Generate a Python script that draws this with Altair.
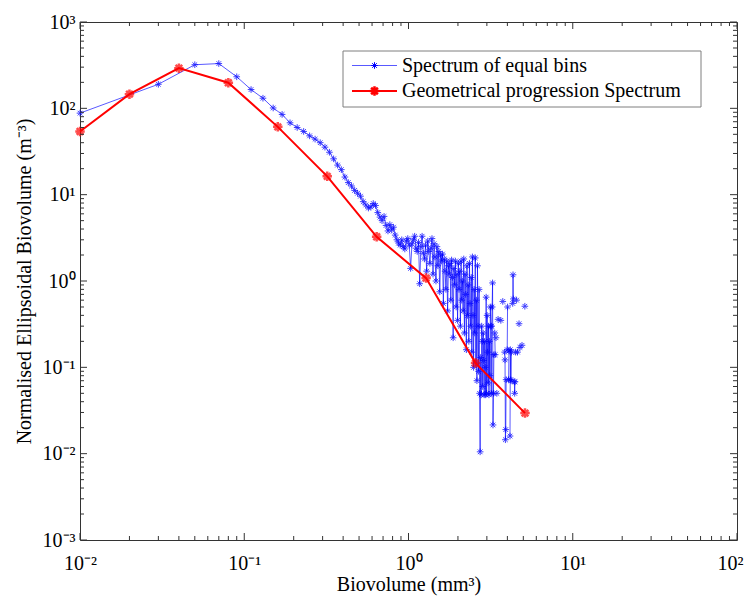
import altair as alt
import pandas as pd

# ---------------- data ----------------
BLUE_X = [
    0.01, 0.03, 0.05, 0.07, 0.09, 0.11, 0.13, 0.15, 0.17, 0.19,
    0.21, 0.23, 0.25, 0.27, 0.29, 0.31, 0.33, 0.35, 0.37, 0.39,
    0.41, 0.43, 0.45, 0.47, 0.49, 0.51, 0.53, 0.55, 0.57, 0.59,
    0.61, 0.63, 0.65, 0.67, 0.69, 0.71, 0.73, 0.75, 0.77, 0.79,
    0.81, 0.83, 0.85, 0.87, 0.89, 0.91, 0.93, 0.95, 0.97, 0.99,
    1.01, 1.03, 1.05, 1.07, 1.09, 1.11, 1.13, 1.15, 1.17, 1.19,
    1.21, 1.23, 1.25, 1.27, 1.29, 1.31, 1.33, 1.35, 1.37, 1.39,
    1.41, 1.43, 1.45, 1.47, 1.49, 1.51, 1.53, 1.55, 1.57, 1.59,
    1.61, 1.63, 1.65, 1.67, 1.69, 1.71, 1.73, 1.75, 1.77, 1.79,
    1.81, 1.83, 1.85, 1.87, 1.89, 1.91, 1.93, 1.95, 1.97, 1.99,
    2.01, 2.03, 2.05, 2.07, 2.09, 2.11, 2.13, 2.15, 2.17, 2.19,
    2.21, 2.23, 2.25, 2.27, 2.29, 2.31, 2.33, 2.35, 2.37, 2.39,
    2.41, 2.43, 2.45, 2.47, 2.49, 2.51, 2.53, 2.55, 2.57, 2.59,
    2.61, 2.63, 2.65, 2.67, 2.69, 2.71, 2.73, 2.75, 2.77, 2.79,
    2.81, 2.83, 2.85, 2.87, 2.89, 2.91, 2.93, 2.95, 2.97, 2.99,
    3.01, 3.03, 3.05, 3.07, 3.09, 3.11, 3.13, 3.15, 3.17, 3.19,
    3.21, 3.23, 3.25, 3.27, 3.29, 3.31, 3.33, 3.35, 3.37, 3.39,
    3.41, 3.43, 3.45, 3.47, 3.49, 3.51, 3.53, 3.55, 3.57, 3.59,
    3.61, 3.63, 3.65, 3.67, 3.69, 3.71, 3.73, 3.75, 3.77, 3.79,
    3.81, 3.83, 3.85, 3.87, 3.89, 3.91, 3.93, 3.95, 3.97, 3.99,
    4.01, 4.03, 4.05, 4.07, 4.09, 4.11, 4.13, 4.15, 4.17, 4.19,
    4.21, 4.23, 4.25, 4.27, 4.29, 4.31, 4.33, 4.35, 4.37, 4.39,
    4.41, 4.43, 4.45, 4.47, 4.49, 4.51, 4.53, 4.55, 4.57, 4.59,
    4.61, 4.63, 4.65, 4.67, 4.69, 4.71, 4.73, 4.75, 4.77, 4.79,
    4.81, 4.83, 4.85, 4.87, 4.89, 4.91, 4.93, 4.95, 4.97, 4.99,
    5.01, 5.03, 5.05, 5.07, 5.09, 5.11,
]
BLUE_Y = [
    88, 190, 320, 330, 232, 165, 131, 101, 85, 68,
    60, 54, 48, 44, 40, 35.5, 31, 26, 22, 19.5,
    16, 13.8, 12.6, 11.2, 10.4, 9.6, 8.3, 7.6, 7.0, 7.2,
    7.9, 7.5, 6.2, 5.5, 5.0, 5.6, 4.4, 3.8, 4.5, 3.9,
    4.2, 3.4, 3.0, 2.75, 2.6, 3.0, 2.5, 2.35, 2.9, 3.1,
    2.6, 1.4, 2.7, 3.0, 3.3, 2.4, 2.2, 2.8, 0.93, 2.5,
    3.3, 2.1, 1.8, 2.6, 1.3, 2.9, 2.2, 1.6, 2.4, 3.1,
    1.2, 2.7, 1.9, 1.0, 2.5, 1.5, 2.2, 0.75, 2.0, 1.7,
    2.05, 0.55, 1.8, 1.3, 0.8, 1.7, 0.45, 1.5, 1.2, 1.6,
    0.6, 1.75, 1.1, 0.22, 1.4, 0.9, 1.7, 0.5, 1.2, 0.35,
    1.6, 0.8, 1.3, 0.3, 1.7, 0.6, 1.0, 0.45, 1.8, 0.25,
    1.2, 0.7, 0.16, 1.5, 0.4, 0.9, 0.2, 1.6, 0.55, 0.3,
    1.1, 0.15, 1.9, 0.4, 0.1, 0.8, 0.25, 1.85, 0.11, 0.6,
    0.07, 1.5, 0.3, 0.09, 0.8, 0.05, 0.0105, 0.13, 0.048, 0.3,
    0.2, 0.06, 0.25, 0.12, 0.048, 0.2, 0.1, 0.048, 0.65, 0.05,
    0.4, 0.15, 0.066, 0.3, 0.048, 0.2, 0.08, 0.5, 0.3, 0.05,
    0.3, 0.5, 0.95, 0.0215, 0.05, 0.14, None, 0.25, 0.14, None,
    0.22, None, 0.05, None, None, 0.36, None, None, None, None,
    None, None, 0.35, None, None, None, None, 0.58, None, None,
    None, None, 0.15, 0.122, 0.0145, 0.019, 0.072, None, None, 0.16,
    0.5, None, None, 0.072, 0.155, None, None, 0.016, 0.16, 0.072,
    0.07, 0.15, None, None, None, 0.55, 1.18, 0.62, None, None,
    0.068, 0.05, 0.068, None, 0.15, None, None, 0.6, None, None,
    0.15, None, None, None, None, 0.32, None, None, 0.17, None,
    None, None, None, None, None, 0.18, None, None, None, None,
    None, None, None, None, None, 0.51,
]
RED_X = [0.01, 0.02, 0.04, 0.08, 0.16, 0.32, 0.64, 1.28, 2.56, 5.12]
RED_Y = [54, 146, 292, 198, 61, 16.3, 3.25, 1.08, 0.112, 0.0295]

SERIES = ["Spectrum of equal bins", "Geometrical progression Spectrum"]
X_TICKS = [0.01, 0.1, 1, 10, 100]
X_TICK_LABELS = ["10\u207b\u00b2", "10\u207b\u00b9", "10\u2070", "10\u00b9", "10\u00b2"]
Y_TICKS = [0.001, 0.01, 0.1, 1, 10, 100, 1000]
Y_TICK_LABELS = ["10\u207b\u00b3", "10\u207b\u00b2", "10\u207b\u00b9", "10\u2070",
                 "10\u00b9", "10\u00b2", "10\u00b3"]
X_TITLE = "Biovolume (mm\u00b3)"
Y_TITLE = "Normalised Ellipsoidal Biovolume (m\u207b\u00b3)"

# ---------------- styling ----------------
W, H = 657, 518
FONT = "Liberation Serif"
BLUE = "#0000ff"
RED = "#ff0000"
AXC = "#333333"
STAR = "M-1,0L1,0M0,-1L0,1M-0.7,-0.7L0.7,0.7M-0.7,0.7L0.7,-0.7"


def label_expr(labels, first_exp):
    arr = "[" + ",".join("'" + s + "'" for s in labels) + "]"
    return f"{arr}[round(log(datum.value)/LN10)-({first_exp})]"


xscale = alt.Scale(type="log", domain=[0.01, 100], nice=False)
yscale = alt.Scale(type="log", domain=[0.001, 1000], nice=False)

AXSTYLE = dict(labelFont=FONT, titleFont=FONT, labelFontSize=20, titleFontSize=20,
               labelColor="black", titleColor="black", titleFontWeight="normal",
               grid=False, ticks=False, domain=False, labelOverlap=False, labelBound=False)
LAST_X = X_TICKS[-1]
XAX = alt.Axis(values=X_TICKS, labelExpr=label_expr(X_TICK_LABELS, -2),
               title=X_TITLE, labelPadding=13, titlePadding=1,
               labelFlush=False,
               labelAlign={"condition": {"test": f"datum.value >= {LAST_X}", "value": "right"},
                           "value": "center"},
               labelOffset={"condition": {"test": f"datum.value >= {LAST_X}", "value": 6},
                            "value": 0},
               **AXSTYLE)
YAX = alt.Axis(values=Y_TICKS, labelExpr=label_expr(Y_TICK_LABELS, -3),
               title=Y_TITLE, labelPadding=5, titlePadding=8, **AXSTYLE)
X = alt.X("x:Q", scale=xscale, axis=XAX)
Y = alt.Y("y:Q", scale=yscale, axis=YAX)

blue_df = pd.DataFrame({"x": BLUE_X, "y": BLUE_Y})
blue_df["seg"] = blue_df["y"].isna().cumsum()
blue_df = blue_df.dropna()
red_df = pd.DataFrame({"x": RED_X, "y": RED_Y})

blue_line = alt.Chart(blue_df).mark_line(color=BLUE, strokeWidth=1, opacity=0.65).encode(
    x=X, y=Y, detail="seg:N", order="x:Q")
blue_pts = alt.Chart(blue_df).mark_point(shape=STAR, filled=False, color=BLUE,
                                         strokeWidth=1, size=44, opacity=0.75).encode(x=X, y=Y)
red_line = alt.Chart(red_df).mark_line(color=RED, strokeWidth=2).encode(x=X, y=Y, order="x:Q")
red_pts = alt.Chart(red_df).mark_point(shape=STAR, filled=False, color=RED,
                                       strokeWidth=2.5, size=90).encode(x=X, y=Y)

# inward tick marks on all four sides (axis decoration)
x_minor = [m * d for d in [0.01, 0.1, 1, 10] for m in range(2, 10)]
y_minor = [m * d for d in [0.001, 0.01, 0.1, 1, 10, 100] for m in range(2, 10)]


def xticks(vals, length):
    d = alt.Chart(pd.DataFrame({"x": vals})).mark_rule(color=AXC, strokeWidth=1)
    return [d.encode(x=X, y=alt.value(H), y2=alt.value(H - length)),
            d.encode(x=X, y=alt.value(0), y2=alt.value(length))]


def yticks(vals, length):
    d = alt.Chart(pd.DataFrame({"y": vals})).mark_rule(color=AXC, strokeWidth=1)
    return [d.encode(y=Y, x=alt.value(0), x2=alt.value(length)),
            d.encode(y=Y, x=alt.value(W), x2=alt.value(W - length))]


ticks = xticks(X_TICKS, 7) + xticks(x_minor, 4) + yticks(Y_TICKS, 7) + yticks(y_minor, 4)

# legend (drawn as a boxed key inside the plot)
LX0, LX1, LY0, LY1 = 263, 621, 29, 85
legend = [alt.Chart(pd.DataFrame({"a": [0]})).mark_rect(
    fill="white", stroke="#7f7f7f", strokeWidth=1).encode(
    x=alt.value(LX0), x2=alt.value(LX1), y=alt.value(LY0), y2=alt.value(LY1))]
for i, (name, col) in enumerate(zip(SERIES, [BLUE, RED])):
    yy = 43.5 + 25.5 * i
    one = alt.Chart(pd.DataFrame({"label": [name]}))
    legend.append(one.mark_rule(color=col, strokeWidth=1 if i == 0 else 2,
                                opacity=0.65 if i == 0 else 1).encode(
        x=alt.value(272), x2=alt.value(317), y=alt.value(yy)))
    legend.append(one.mark_point(shape=STAR, filled=False, color=col,
                                 strokeWidth=1 if i == 0 else 2.5,
                                 size=44 if i == 0 else 90, opacity=1).encode(
        x=alt.value(294.5), y=alt.value(yy)))
    legend.append(one.mark_text(align="left", baseline="middle", font=FONT,
                                fontSize=20, color="black").encode(
        x=alt.value(322), y=alt.value(yy), text="label:N"))

chart = alt.layer(blue_line, blue_pts, red_line, red_pts, *ticks, *legend).properties(
    width=W, height=H,
    background="white",
    autosize=alt.AutoSizeParams(type="none"),
    padding={"left": 72, "top": 14, "right": 10, "bottom": 57},
).configure_view(stroke=AXC, strokeWidth=1)

chart.save("out.html", embed_options={"renderer": "svg", "actions": False})
